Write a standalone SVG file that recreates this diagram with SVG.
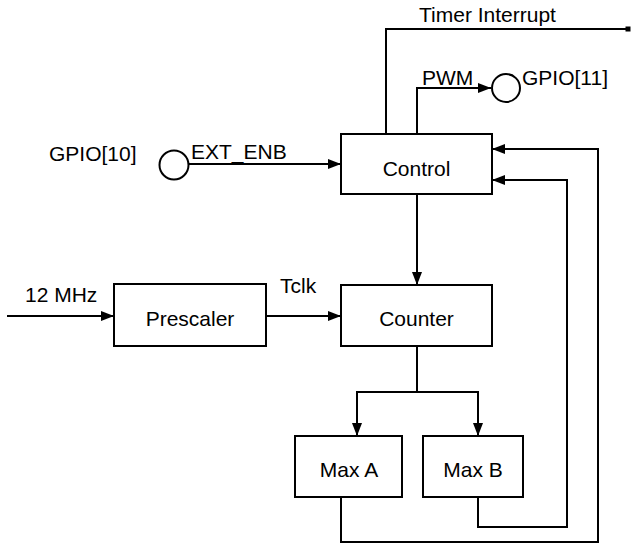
<svg xmlns="http://www.w3.org/2000/svg" width="633" height="544" viewBox="0 0 633 544">
<style>
.box{fill:#fff;stroke:#000;stroke-width:2}
.ln{fill:none;stroke:#000;stroke-width:2}
.t{font-family:"Liberation Sans",Arial,sans-serif;font-size:21px;fill:#000}
.c{text-anchor:middle}
</style>
<defs>
<marker id="ah" markerUnits="userSpaceOnUse" markerWidth="14" markerHeight="11" refX="13" refY="5" orient="auto">
<path d="M0,0 L13,5 L0,10 z" fill="#000"/>
</marker>
</defs>
<rect width="633" height="544" fill="#fff"/>
<g id="connectors">
<path class="ln" d="M189,164 H341" marker-end="url(#ah)"/>
<path class="ln" d="M7,316 H114" marker-end="url(#ah)"/>
<path class="ln" d="M266,316 H341" marker-end="url(#ah)"/>
<path class="ln" d="M417,194 V285" marker-end="url(#ah)"/>
<path class="ln" d="M417,134 V88 H491" marker-end="url(#ah)"/>
<path class="ln" d="M386,134 V29 H628"/>
<rect x="625.5" y="26.5" width="5" height="5" fill="#000"/>
<path class="ln" d="M417,346 V392"/>
<path class="ln" d="M417,392 H357 V436" marker-end="url(#ah)"/>
<path class="ln" d="M417,392 H478 V436" marker-end="url(#ah)"/>
<path class="ln" d="M341,497 V542 H598 V149 H492" marker-end="url(#ah)"/>
<path class="ln" d="M478,497 V527 H567 V180 H492" marker-end="url(#ah)"/>
</g>
<g id="gpio10">
<circle class="box" cx="174" cy="165" r="14.5"/>
<text class="t" x="49" y="161">GPIO[10]</text>
</g>
<g id="gpio11">
<circle class="box" cx="506" cy="88" r="14"/>
<text class="t" x="522" y="85">GPIO[11]</text>
</g>
<g id="control">
<rect class="box" x="341" y="134" width="151" height="60"/>
<text class="t c" x="416.5" y="176">Control</text>
</g>
<g id="counter">
<rect class="box" x="341" y="285" width="151" height="61"/>
<text class="t c" x="416.5" y="326">Counter</text>
</g>
<g id="prescaler">
<rect class="box" x="114" y="284" width="152" height="62"/>
<text class="t c" x="190" y="326">Prescaler</text>
</g>
<g id="maxa">
<rect class="box" x="295" y="436" width="107" height="61"/>
<text class="t c" x="349" y="477">Max A</text>
</g>
<g id="maxb">
<rect class="box" x="423" y="436" width="100" height="61"/>
<text class="t c" x="473" y="477">Max B</text>
</g>
<g id="labels">
<text class="t" x="419" y="22">Timer Interrupt</text>
<text class="t" x="422" y="85">PWM</text>
<text class="t" x="191" y="159">EXT_ENB</text>
<text class="t" x="25" y="302">12 MHz</text>
<text class="t" x="280" y="293">Tclk</text>
</g>
</svg>
